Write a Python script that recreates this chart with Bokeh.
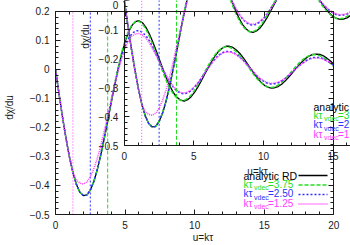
from bokeh.plotting import figure
from bokeh.models import Range1d, LinearAxis, SingleIntervalTicker, Label, Arrow
from bokeh.embed import file_html
from bokeh.resources import INLINE

# ---------------- data ----------------
u = [0.0, 0.25, 0.5, 0.75, 1.0, 1.25, 1.5, 1.75, 2.0, 2.25,
     2.5, 2.75, 3.0, 3.25, 3.5, 3.75, 4.0, 4.25, 4.5, 4.75,
     5.0, 5.25, 5.5, 5.75, 6.0, 6.25, 6.5, 6.75, 7.0, 7.25,
     7.5, 7.75, 8.0, 8.25, 8.5, 8.75, 9.0, 9.25, 9.5, 9.75,
     10.0, 10.25, 10.5, 10.75, 11.0, 11.25, 11.5, 11.75, 12.0, 12.25,
     12.5, 12.75, 13.0, 13.25, 13.5, 13.75, 14.0, 14.25, 14.5, 14.75,
     15.0, 15.25, 15.5, 15.75, 16.0, 16.25, 16.5, 16.75, 17.0, 17.25,
     17.5, 17.75, 18.0, 18.25, 18.5, 18.75, 19.0, 19.25, 19.5, 19.75,
     20.0]

dchi_analytic = [0.000, -0.083, -0.163, -0.236, -0.301, -0.355, -0.396, -0.423, -0.435, -0.433,
                 -0.416, -0.387, -0.346, -0.296, -0.239, -0.178, -0.116, -0.055, 0.001, 0.052,
                 0.095, 0.129, 0.152, 0.165, 0.168, 0.161, 0.145, 0.122, 0.094, 0.063,
                 0.030, -0.003, -0.034, -0.060, -0.082, -0.097, -0.106, -0.109, -0.104, -0.094,
                 -0.078, -0.059, -0.037, -0.014, 0.009, 0.030, 0.049, 0.064, 0.074, 0.080,
                 0.080, 0.076, 0.067, 0.055, 0.040, 0.023, 0.005, -0.013, -0.029, -0.043,
                 -0.054, -0.061, -0.064, -0.063, -0.059, -0.051, -0.040, -0.027, -0.013, 0.002,
                 0.016, 0.028, 0.039, 0.047, 0.052, 0.053, 0.052, 0.047, 0.039, 0.030,
                 0.018]

dchi_375 = [0.000, -0.083, -0.163, -0.236, -0.301, -0.355, -0.396, -0.423, -0.435, -0.433,
            -0.416, -0.387, -0.346, -0.296, -0.239, -0.178, -0.113, -0.050, 0.007, 0.058,
            0.100, 0.133, 0.154, 0.165, 0.166, 0.157, 0.139, 0.114, 0.084, 0.052,
            0.019, -0.013, -0.043, -0.067, -0.087, -0.100, -0.107, -0.107, -0.100, -0.088,
            -0.071, -0.051, -0.029, -0.006, 0.016, 0.036, 0.053, 0.066, 0.075, 0.078,
            0.077, 0.071, 0.061, 0.048, 0.033, 0.017, -0.001, -0.018, -0.033, -0.045,
            -0.055, -0.061, -0.062, -0.060, -0.054, -0.045, -0.033, -0.019, -0.005, 0.009,
            0.022, 0.033, 0.042, 0.048, 0.051, 0.051, 0.047, 0.041, 0.032, 0.021,
            0.010]

dchi_250 = [0.000, -0.083, -0.163, -0.236, -0.301, -0.355, -0.396, -0.423, -0.435, -0.433,
            -0.416, -0.386, -0.344, -0.292, -0.234, -0.172, -0.110, -0.052, 0.000, 0.044,
            0.080, 0.107, 0.124, 0.133, 0.134, 0.128, 0.116, 0.098, 0.075, 0.050,
            0.024, -0.002, -0.026, -0.046, -0.063, -0.075, -0.082, -0.084, -0.081, -0.073,
            -0.061, -0.046, -0.029, -0.011, 0.007, 0.023, 0.038, 0.050, 0.058, 0.062,
            0.062, 0.059, 0.052, 0.043, 0.031, 0.018, 0.004, -0.010, -0.023, -0.034,
            -0.042, -0.048, -0.050, -0.049, -0.046, -0.040, -0.031, -0.021, -0.010, 0.002,
            0.012, 0.022, 0.030, 0.037, 0.041, 0.041, 0.041, 0.037, 0.030, 0.023,
            0.014]

dchi_125 = [0.000, -0.083, -0.163, -0.236, -0.301, -0.355, -0.382, -0.392, -0.395, -0.388,
            -0.370, -0.343, -0.307, -0.263, -0.213, -0.160, -0.106, -0.054, -0.006, 0.037,
            0.073, 0.099, 0.115, 0.123, 0.124, 0.118, 0.108, 0.091, 0.070, 0.047,
            0.023, -0.002, -0.025, -0.045, -0.061, -0.072, -0.079, -0.081, -0.078, -0.070,
            -0.059, -0.044, -0.028, -0.011, 0.007, 0.023, 0.037, 0.048, 0.056, 0.060,
            0.060, 0.057, 0.050, 0.041, 0.030, 0.017, 0.004, -0.010, -0.022, -0.032,
            -0.041, -0.046, -0.048, -0.047, -0.044, -0.038, -0.030, -0.020, -0.010, 0.002,
            0.012, 0.021, 0.029, 0.035, 0.039, 0.040, 0.039, 0.035, 0.029, 0.023,
            0.014]

tau_vdec = [3.75, 2.50, 1.25]
tau_labels = ["3.75", "2.50", "1.25"]
analytic_label = "analytic RD"
x_label = "u=k\u03c4"
y_label = "d\u03c7/du"

X_LIM = (0.0, 20.0)
Y_LIM = (-0.5, 0.2)
X_TICK_STEP = 5
Y_TICK_STEP = 0.1

# ---------------- styles ----------------
FONT = "Liberation Sans"
INK = "#1a1a1a"
BLACK = "#000000"
TAU_COLORS = ["#22dd22", "#2f2fff", "#ff3cff"]
TAU_DASHES = ["4 2", "2 2", "1 1"]
VLINE_DASHES = ["4 2", "2 2", "1 2"]
LW = 1.3

# page-pixel layout
W, H = 350, 245
FRAME_L, FRAME_R, FRAME_T, FRAME_B = 50, 350, 0, 215
MAIN_X_PX = (50, 333)      # pixel of X_LIM[0], X_LIM[1]
MAIN_Y_PX = (215, 11)      # pixel of Y_LIM[0], Y_LIM[1]
INSET_DX, INSET_DY = 70, -69

kx = (MAIN_X_PX[1] - MAIN_X_PX[0]) / (X_LIM[1] - X_LIM[0])
ky = (MAIN_Y_PX[0] - MAIN_Y_PX[1]) / (Y_LIM[1] - Y_LIM[0])

mx0 = X_LIM[0] - (MAIN_X_PX[0] - FRAME_L) / kx
mx1 = X_LIM[0] + (FRAME_R - MAIN_X_PX[0]) / kx
my0 = Y_LIM[0] - (FRAME_B - MAIN_Y_PX[0]) / ky
my1 = Y_LIM[0] + (MAIN_Y_PX[0] - FRAME_T) / ky

p = figure(width=W, height=H,
           x_range=Range1d(mx0, mx1), y_range=Range1d(my0, my1),
           x_axis_type=None, y_axis_type=None,
           output_backend="svg", toolbar_location=None,
           min_border_left=FRAME_L, min_border_right=W - FRAME_R,
           min_border_top=FRAME_T, min_border_bottom=H - FRAME_B,
           outline_line_color=None, background_fill_color="white",
           border_fill_color="white")
p.extra_x_ranges = {"inset": Range1d(mx0 - INSET_DX / kx, mx1 - INSET_DX / kx)}
p.extra_y_ranges = {"inset": Range1d(my0 + INSET_DY / ky, my1 + INSET_DY / ky)}


def draw_panel(rng):
    for t, c, d in zip(tau_vdec, TAU_COLORS, VLINE_DASHES):
        p.segment(x0=[t], y0=[Y_LIM[0]], x1=[t], y1=[Y_LIM[1]],
                  line_color=c, line_dash=d, line_width=1, **rng)
    p.line(u, dchi_analytic, line_color=BLACK, line_width=LW, **rng)
    for ys, c, d in zip([dchi_375, dchi_250, dchi_125], TAU_COLORS, TAU_DASHES):
        p.line(u, ys, line_color=c, line_dash=d, line_width=LW + 0.2, **rng)


draw_panel({})
draw_panel(dict(x_range_name="inset", y_range_name="inset"))


def style_axis(ax, labels=True):
    ax.axis_line_color = INK
    ax.axis_line_width = 1
    ax.major_tick_line_color = INK
    ax.minor_tick_line_color = INK
    ax.major_tick_in = 5
    ax.major_tick_out = 0
    ax.minor_tick_in = 3
    ax.minor_tick_out = 0
    ax.major_label_text_font = FONT
    ax.major_label_text_font_size = "10px"
    ax.major_label_text_color = INK if labels else None
    ax.axis_label_text_font = FONT
    ax.axis_label_text_font_size = "10px"
    ax.axis_label_text_font_style = "normal"
    ax.axis_label_text_color = INK


def xticker():
    return SingleIntervalTicker(interval=X_TICK_STEP, num_minor_ticks=5)


def yticker():
    return SingleIntervalTicker(interval=Y_TICK_STEP, num_minor_ticks=5)


# main axes
ax = LinearAxis(ticker=yticker(), bounds=Y_LIM, axis_label=y_label)
style_axis(ax)
ax.major_label_standoff = 6
ax.axis_label_standoff = 12
p.add_layout(ax, "left")

ax = LinearAxis(ticker=xticker(), bounds=X_LIM, axis_label=x_label)
style_axis(ax)
ax.major_label_standoff = 6
ax.axis_label_standoff = 0
p.add_layout(ax, "below")

ax = LinearAxis(ticker=yticker(), bounds=Y_LIM, fixed_location=X_LIM[1])
style_axis(ax, labels=False)
p.add_layout(ax, "right")

ax = LinearAxis(ticker=xticker(), bounds=X_LIM, fixed_location=Y_LIM[1])
style_axis(ax, labels=False)
p.add_layout(ax, "above")

# inset axes (their titles are placed as labels below)
ax = LinearAxis(ticker=yticker(), bounds=Y_LIM, fixed_location=X_LIM[0],
                x_range_name="inset", y_range_name="inset")
style_axis(ax)
ax.major_label_standoff = 6
p.add_layout(ax, "left")

ax = LinearAxis(ticker=xticker(), bounds=X_LIM, fixed_location=Y_LIM[0],
                x_range_name="inset", y_range_name="inset")
style_axis(ax)
ax.major_label_standoff = 6
p.add_layout(ax, "below")


def sx(X):
    return X - FRAME_L


def sy(Y):
    return FRAME_B - Y


p.add_layout(Label(x=sx(80), y=sy(37), x_units="screen", y_units="screen",
                   text=y_label, angle=90, angle_units="deg",
                   text_align="center", text_baseline="middle",
                   text_font=FONT, text_font_size="10px", text_color=INK))
p.add_layout(Label(x=sx(252), y=sy(172), x_units="screen", y_units="screen",
                   text=x_label, text_align="center", text_baseline="middle",
                   text_font=FONT, text_font_size="10px", text_color=INK))


# legends (gnuplot style: text left, sample right)
def legend_block(x_right, y_first, with_samples=True):
    rows = [y_first + 9.5 * i for i in range(4)]
    x0 = x_right - 54
    p.add_layout(Label(x=sx(x0), y=sy(rows[0]), x_units="screen", y_units="screen",
                       text=analytic_label, text_align="left", text_baseline="middle",
                       text_font=FONT, text_font_size="10.5px", text_color=BLACK))
    if with_samples:
        p.add_layout(Arrow(start=None, end=None, x_start=sx(x_right + 1), y_start=sy(rows[0]),
                           x_end=sx(x_right + 30), y_end=sy(rows[0]),
                           start_units="screen", end_units="screen",
                           line_color=BLACK, line_width=LW))
    for r, lab, c, d in zip(rows[1:], tau_labels, TAU_COLORS, TAU_DASHES):
        p.add_layout(Label(x=sx(x0), y=sy(r - 1), x_units="screen", y_units="screen",
                           text="k\u03c4", text_align="left", text_baseline="middle",
                           text_font=FONT, text_font_size="10px", text_color=c))
        p.add_layout(Label(x=sx(x0 + 10.5), y=sy(r + 2.5), x_units="screen", y_units="screen",
                           text="vdec", text_align="left", text_baseline="middle",
                           text_font=FONT, text_font_size="7px", text_color=c))
        p.add_layout(Label(x=sx(x0 + 24.5), y=sy(r - 1), x_units="screen", y_units="screen",
                           text="=" + lab, text_align="left", text_baseline="middle",
                           text_font=FONT, text_font_size="10px", text_color=c))
        if with_samples:
            p.add_layout(Arrow(start=None, end=None, x_start=sx(x_right + 1), y_start=sy(r),
                               x_end=sx(x_right + 30), y_end=sy(r),
                               start_units="screen", end_units="screen",
                               line_color=c, line_dash=d, line_width=LW + 0.2))


legend_block(292, 176)
legend_block(292 + INSET_DX, 176 + INSET_DY, with_samples=False)

open("out.html", "w").write(file_html(p, INLINE))
